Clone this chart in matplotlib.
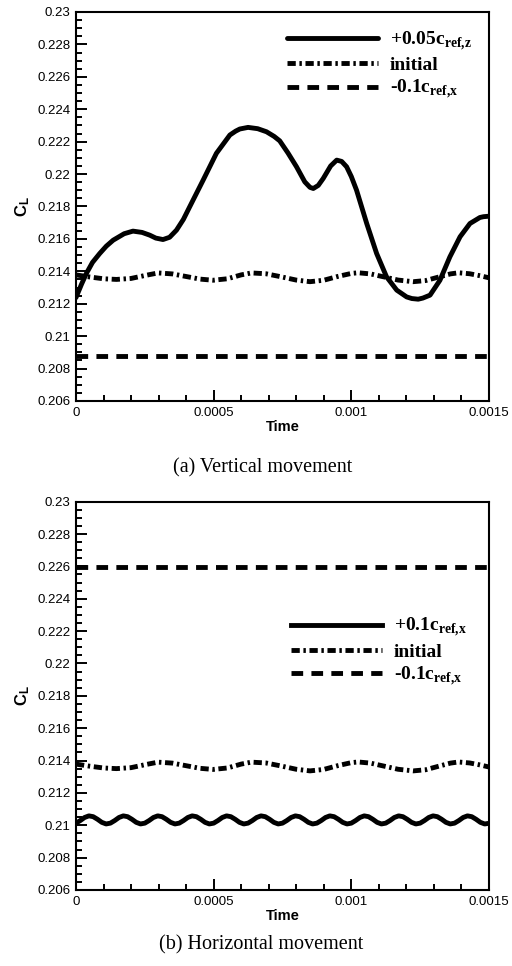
import numpy as np
import matplotlib
matplotlib.use("Agg")
import matplotlib.pyplot as plt
from matplotlib.ticker import MultipleLocator, FuncFormatter

plt.rcParams['font.family'] = ['Liberation Sans', 'DejaVu Sans']
plt.rcParams['mathtext.fontset'] = 'custom'
plt.rcParams['mathtext.bf'] = 'Liberation Serif:bold'
plt.rcParams['mathtext.rm'] = 'Liberation Serif:bold'
plt.rcParams['mathtext.sf'] = 'Liberation Sans:bold'

# ---- data ----
# (a) vertical movement, +0.05 c_ref,z
t_vert = [0.0, 0.00002, 0.0000378, 0.00006, 0.0000862, 0.00011, 0.000135, 0.000175,
          0.000207, 0.000240, 0.000268, 0.00029, 0.000316, 0.00034, 0.000365, 0.00039,
          0.000413, 0.000462, 0.000510, 0.000559, 0.00058, 0.000595, 0.000625, 0.000660,
          0.000692, 0.00072, 0.000740, 0.000770, 0.000801, 0.000831, 0.00085, 0.000862,
          0.00088, 0.000898, 0.000925, 0.000947, 0.000965, 0.000983, 0.001, 0.001019,
          0.001056, 0.001092, 0.001128, 0.001165, 0.001201, 0.00122, 0.001243, 0.00126,
          0.001286, 0.001322, 0.001358, 0.001395, 0.001431, 0.001467, 0.00148, 0.001500]
cl_vert = [0.21238, 0.21320, 0.21387, 0.21455, 0.21510, 0.21555, 0.21592, 0.21632,
           0.21648, 0.21640, 0.21623, 0.21605, 0.21596, 0.21610, 0.21654, 0.21720,
           0.21798, 0.21963, 0.22128, 0.22241, 0.22265, 0.22278, 0.22288, 0.22280,
           0.22261, 0.22232, 0.22205, 0.22130, 0.22045, 0.21952, 0.21918, 0.21911,
           0.21930, 0.21973, 0.22050, 0.22086, 0.22078, 0.22045, 0.21985, 0.21901,
           0.21695, 0.21510, 0.21366, 0.21284, 0.21242, 0.21232, 0.21228, 0.21235,
           0.21253, 0.21345, 0.21489, 0.21613, 0.21695, 0.21732, 0.21737, 0.21740]

# initial (same in both panels)
t_init = [0.0, 0.00005, 0.0001, 0.000147, 0.0002, 0.00025, 0.000298, 0.00035, 0.0004,
          0.00045, 0.000498, 0.00055, 0.0006, 0.000637, 0.00069, 0.00074, 0.0008,
          0.00085, 0.0009, 0.00095, 0.001, 0.001025, 0.00107, 0.00112, 0.00117,
          0.001225, 0.00127, 0.00132, 0.00136, 0.001389, 0.00143, 0.00147, 0.0015]
cl_init = [0.21378, 0.21365, 0.21354, 0.21350, 0.21356, 0.21374, 0.21390, 0.21384, 0.21368,
           0.21352, 0.21345, 0.21354, 0.21378, 0.21390, 0.21385, 0.21368, 0.21346,
           0.21336, 0.21345, 0.21368, 0.21387, 0.21391, 0.21384, 0.21365, 0.21346,
           0.21336, 0.21343, 0.21366, 0.21384, 0.21391, 0.21385, 0.21372, 0.21360]

# -0.1 c_ref,x (flat lines)
t_flat = [0.0, 0.0015]
cl_minus_a = [0.20880, 0.20880]
cl_minus_b = [0.22595, 0.22595]

# (b) horizontal movement, +0.1 c_ref,x, sampled every 1/8 of its period
t_horiz = np.arange(97) * 0.000015625
cl_horiz = [0.21013, 0.21029, 0.21048, 0.21058, 0.21053, 0.21037, 0.21018, 0.21008,
            0.21013, 0.21029, 0.21048, 0.21058, 0.21053, 0.21037, 0.21018, 0.21008,
            0.21013, 0.21029, 0.21048, 0.21058, 0.21053, 0.21037, 0.21018, 0.21008,
            0.21013, 0.21029, 0.21048, 0.21058, 0.21053, 0.21037, 0.21018, 0.21008,
            0.21013, 0.21029, 0.21048, 0.21058, 0.21053, 0.21037, 0.21018, 0.21008,
            0.21013, 0.21029, 0.21048, 0.21058, 0.21053, 0.21037, 0.21018, 0.21008,
            0.21013, 0.21029, 0.21048, 0.21058, 0.21053, 0.21037, 0.21018, 0.21008,
            0.21013, 0.21029, 0.21048, 0.21058, 0.21053, 0.21037, 0.21018, 0.21008,
            0.21013, 0.21029, 0.21048, 0.21058, 0.21053, 0.21037, 0.21018, 0.21008,
            0.21013, 0.21029, 0.21048, 0.21058, 0.21053, 0.21037, 0.21018, 0.21008,
            0.21013, 0.21029, 0.21048, 0.21058, 0.21053, 0.21037, 0.21018, 0.21008,
            0.21013, 0.21029, 0.21048, 0.21058, 0.21053, 0.21037, 0.21018, 0.21008,
            0.21012]

labels_a = [r"+0.05c$_{\mathbf{ref{,}z}}$", "initial", r"-0.1c$_{\mathbf{ref{,}x}}$"]
labels_b = [r"+0.1c$_{\mathbf{ref{,}x}}$", "initial", r"-0.1c$_{\mathbf{ref{,}x}}$"]
captions = ["(a) Vertical movement", "(b) Horizontal movement"]

LW = 3.5
DASH = (0, (2.4, 1.7))
DASHDOT = (0, (1.7, 0.75, 0.5, 0.75))


def fmt(v, pos):
    s = ("%.4f" % v).rstrip("0").rstrip(".")
    return s


def style_axes(ax):
    ax.set_xlim(0, 0.0015)
    ax.set_ylim(0.206, 0.23)
    ax.xaxis.set_major_locator(MultipleLocator(0.0005))
    ax.xaxis.set_minor_locator(MultipleLocator(0.0001))
    ax.yaxis.set_major_locator(MultipleLocator(0.002))
    ax.yaxis.set_minor_locator(MultipleLocator(0.0005))
    ax.xaxis.set_major_formatter(FuncFormatter(fmt))
    ax.yaxis.set_major_formatter(FuncFormatter(fmt))
    ax.tick_params(which='both', direction='in', top=False, right=False,
                   width=1.4, labelsize=9.5, pad=4)
    ax.tick_params(which='major', length=8)
    ax.tick_params(which='minor', length=4.5)
    for sp in ax.spines.values():
        sp.set_linewidth(1.5)
    ax.set_xlabel("Time", fontsize=10.5, fontweight='bold', labelpad=1)
    ax.set_ylabel(r"$\mathsf{C_L}$", fontsize=12, labelpad=4)


fig = plt.figure(figsize=(5.12, 9.66), dpi=100)
ax1 = fig.add_axes([0.1484, 0.5849, 0.8066, 0.4027])
ax2 = fig.add_axes([0.1484, 0.0787, 0.8066, 0.4020])

ax1.plot(t_vert, cl_vert, color='black', lw=LW, solid_capstyle='round',
         solid_joinstyle='round', label=labels_a[0])
ax1.plot(t_init, cl_init, color='black', lw=LW, linestyle=DASHDOT, label=labels_a[1])
ax1.plot(t_flat, cl_minus_a, color='black', lw=LW, linestyle=DASH, label=labels_a[2])

ax2.plot(t_horiz, cl_horiz, color='black', lw=LW, solid_joinstyle='round',
         label=labels_b[0])
ax2.plot(t_init, cl_init, color='black', lw=LW, linestyle=DASHDOT, label=labels_b[1])
ax2.plot(t_flat, cl_minus_b, color='black', lw=LW, linestyle=DASH, label=labels_b[2])

for ax, anchor in ((ax1, (0.51, 0.955)), (ax2, (0.52, 0.705))):
    style_axes(ax)
    ax.legend(loc='upper left', bbox_to_anchor=anchor, frameon=False,
              prop={'family': 'Liberation Serif', 'weight': 'bold', 'size': 14},
              handlelength=4.7, handletextpad=0.6, labelspacing=0.2,
              borderpad=0, borderaxespad=0)

fig.text(0.512, 1 - 468 / 966, captions[0], ha='center', va='center',
         family='Liberation Serif', fontsize=14.5)
fig.text(0.51, 1 - 945 / 966, captions[1], ha='center', va='center',
         family='Liberation Serif', fontsize=14.5)

fig.savefig("out.png", dpi=100)
